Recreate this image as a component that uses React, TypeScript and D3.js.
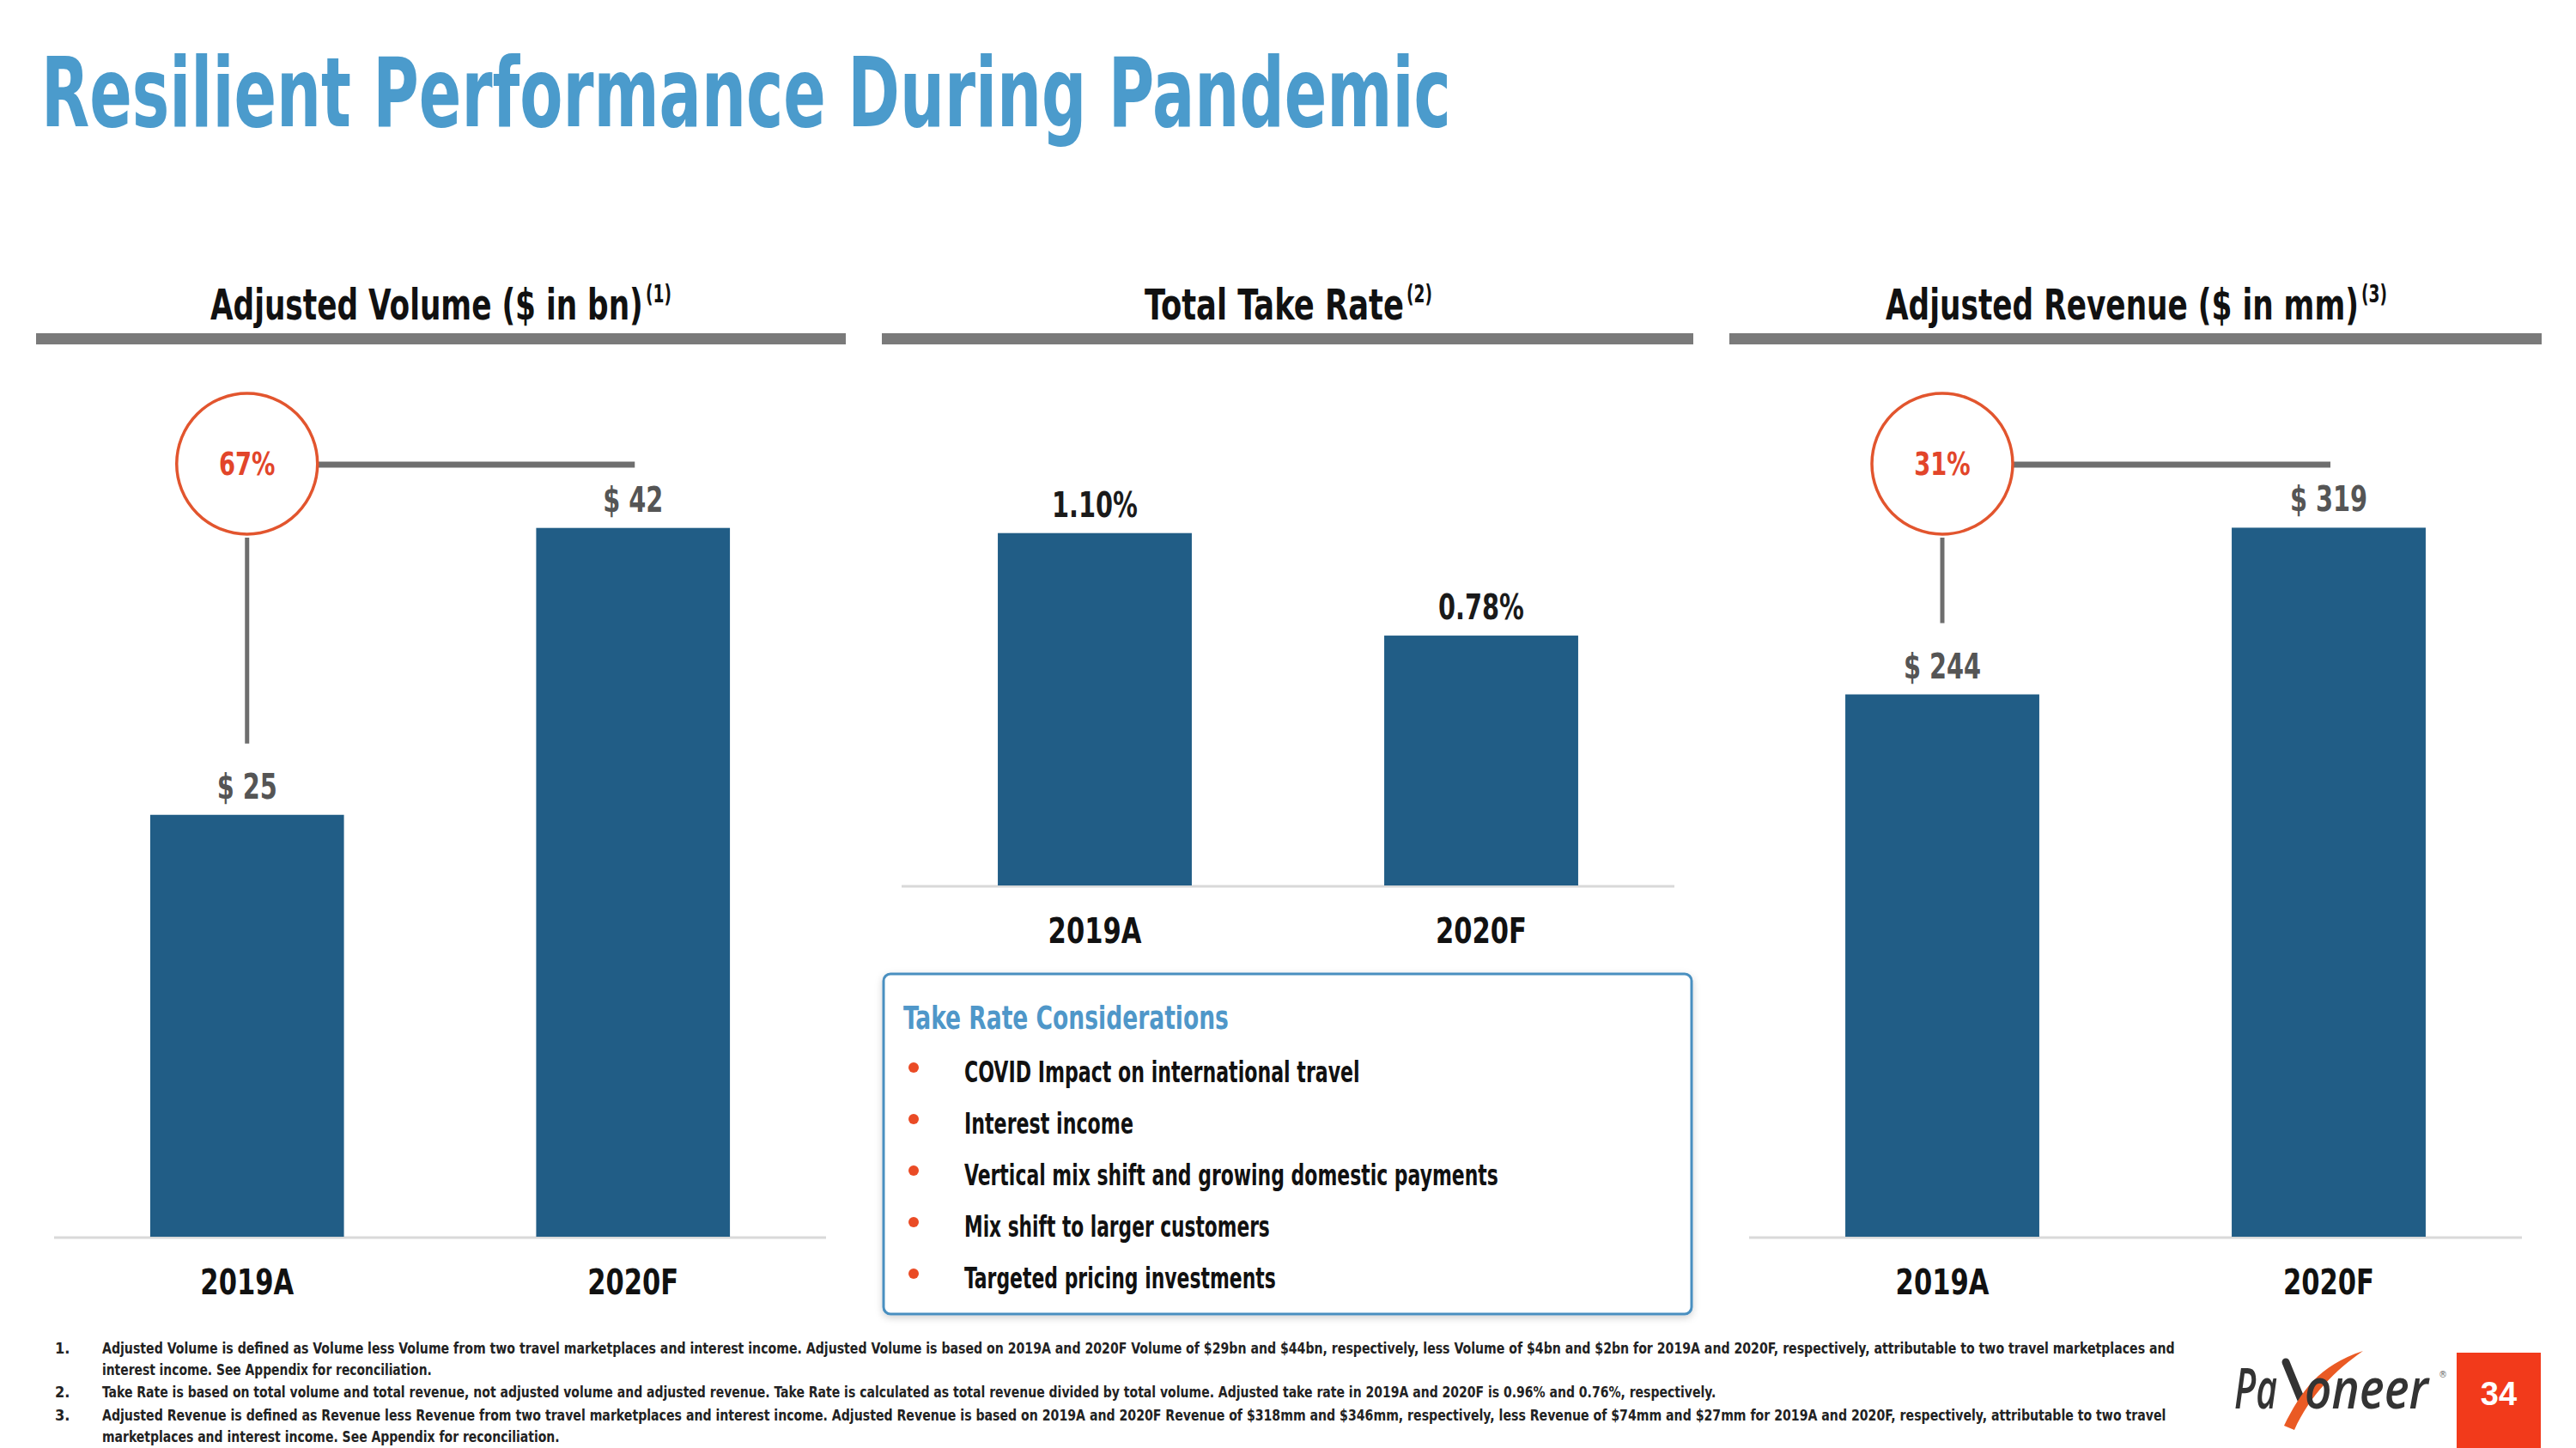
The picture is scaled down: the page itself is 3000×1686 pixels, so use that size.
import React, { useLayoutEffect, useRef, useState } from "react";
import * as d3 from "d3";

const categories = ["2019A", "2020F"];
const volumeValues = [25, 42];
const takeRateValues = [1.1, 0.78];
const revenueValues = [244, 319];
const volumeGrowth = "67%";
const revenueGrowth = "31%";

const titleText = "Resilient Performance During Pandemic";
const panelTitles = [
  { main: "Adjusted Volume ($ in bn)", sup: "(1)" },
  { main: "Total Take Rate", sup: "(2)" },
  { main: "Adjusted Revenue ($ in mm)", sup: "(3)" },
];
const considerationsTitle = "Take Rate Considerations";
const considerations = [
  "COVID Impact on international travel",
  "Interest income",
  "Vertical mix shift and growing domestic payments",
  "Mix shift to larger customers",
  "Targeted pricing investments",
];
const footnoteNumbers = ["1.", "", "2.", "3.", ""];
const footnoteLines = [
  "Adjusted Volume is defined as Volume less Volume from two travel marketplaces and interest income. Adjusted Volume is based on 2019A and 2020F Volume of $29bn and $44bn, respectively, less Volume of $4bn and $2bn for 2019A and 2020F, respectively, attributable to two travel marketplaces and",
  "interest income. See Appendix for reconciliation.",
  "Take Rate is based on total volume and total revenue, not adjusted volume and adjusted revenue. Take Rate is calculated as total revenue divided by total volume. Adjusted take rate in 2019A and 2020F is 0.96% and 0.76%, respectively.",
  "Adjusted Revenue is defined as Revenue less Revenue from two travel marketplaces and interest income. Adjusted Revenue is based on 2019A and 2020F Revenue of $318mm and $346mm, respectively, less Revenue of $74mm and $27mm for 2019A and 2020F, respectively, attributable to two travel",
  "marketplaces and interest income. See Appendix for reconciliation.",
];
const footnoteWidths = [2416, 384, 1880, 2406, 533];
const pageNumber = "34";

const FONT = "'Liberation Sans Narrow', 'DejaVu Sans Condensed', 'Roboto Condensed', 'Arial Narrow', sans-serif";
const LOGO_FONT = "'Open Sans', 'DejaVu Sans', sans-serif";
const BAR = "#215d86";
const GRAY_BAR = "#7a7a7a";
const BLUE = "#4b9bcc";
const ORANGE = "#e2552e";

function FitText({ x, y, width, children, ...rest }: any) {
  const ref = useRef<SVGTextElement>(null);
  const [s, setS] = useState(1);
  useLayoutEffect(() => {
    const el = ref.current;
    if (!el) return;
    const n = el.getComputedTextLength();
    if (n > 0) setS(width / n);
  }, [width, children]);
  return (
    <text ref={ref} transform={`translate(${x},${y}) scale(${s},1)`} x={0} y={0} {...rest}>
      {children}
    </text>
  );
}

function SqText({ x, y, sx, children, ...rest }: any) {
  return (
    <text transform={`translate(${x},${y}) scale(${sx},1)`} x={0} y={0} {...rest}>
      {children}
    </text>
  );
}

type Panel = {
  x0: number;
  x1: number;
  base: number;
  yMax: number;
  top: number;
  values: number[];
  fmt: (v: number) => string;
  labelColor: string;
  growth?: string;
};

const panels: Panel[] = [
  { x0: 63, x1: 962, base: 1440, yMax: 50, top: 1440 - 50 * 19.65, values: volumeValues, fmt: (v) => `$ ${v}`, labelColor: "#555555", growth: volumeGrowth },
  { x0: 1050, x1: 1950, base: 1031, yMax: 1.2, top: 1031 - 1.2 * 373, values: takeRateValues, fmt: (v) => `${v.toFixed(2)}%`, labelColor: "#1a1a1a" },
  { x0: 2037, x1: 2937, base: 1440, yMax: 350, top: 1440 - 350 * 2.588, values: revenueValues, fmt: (v) => `$ ${v}`, labelColor: "#555555", growth: revenueGrowth },
];

const headerX = [[42, 985], [1027, 1972], [2014, 2960]];
const headerTextSpan = [[245, 782], [1333, 1668], [2196, 2780]];

function PanelChart({ p, idx }: { p: Panel; idx: number }) {
  const x = d3.scaleBand<string>().domain(categories).range([p.x0, p.x1]).paddingInner(0).paddingOuter(0);
  const y = d3.scaleLinear().domain([0, p.yMax]).range([p.base, p.top]);
  const bw = x.bandwidth() * 0.502;
  const cx = (c: string) => (x(c) as number) + x.bandwidth() / 2;
  const [hx0, hx1] = headerX[idx];
  const [tx0, tx1] = headerTextSpan[idx];
  const supW = 30;
  return (
    <g>
      <FitText x={tx0} y={372} width={tx1 - tx0 - supW - 3} fontFamily={FONT} fontWeight="bold" fontSize={50} fill="#111">
        {panelTitles[idx].main}
      </FitText>
      <FitText x={tx1 - supW} y={352} width={supW} fontFamily={FONT} fontWeight="bold" fontSize={28} fill="#111">
        {panelTitles[idx].sup}
      </FitText>
      <rect x={hx0} y={388} width={hx1 - hx0} height={13} fill={GRAY_BAR} />
      <line x1={p.x0} x2={p.x1} y1={p.base + 1} y2={p.base + 1} stroke="#d9d9d9" strokeWidth={3} />
      {categories.map((c, i) => (
        <g key={c}>
          <rect x={cx(c) - bw / 2} y={y(p.values[i])} width={bw} height={p.base - y(p.values[i])} fill={BAR} />
          <SqText x={cx(c)} y={y(p.values[i]) - 19} sx={0.8} textAnchor="middle" fontFamily={FONT} fontWeight="bold" fontSize={40} fill={p.labelColor}>
            {p.fmt(p.values[i])}
          </SqText>
          <SqText x={cx(c)} y={p.base + 67} sx={0.85} textAnchor="middle" fontFamily={FONT} fontWeight="bold" fontSize={40} fill="#111">
            {c}
          </SqText>
        </g>
      ))}
      {p.growth && (
        <g>
          <line x1={cx(categories[0]) + 82} x2={cx(categories[1]) + 2} y1={541} y2={541} stroke="#6e6e6e" strokeWidth={7} />
          <line x1={cx(categories[0])} x2={cx(categories[0])} y1={626} y2={y(p.values[0]) - 83} stroke="#6e6e6e" strokeWidth={5} />
          <circle cx={cx(categories[0])} cy={540} r={82} fill="#ffffff" stroke={ORANGE} strokeWidth={3.5} />
          <SqText x={cx(categories[0])} y={553} sx={0.8} textAnchor="middle" fontFamily={FONT} fontWeight="bold" fontSize={38} fill="#e2452a">
            {p.growth}
          </SqText>
        </g>
      )}
    </g>
  );
}

export default function App() {
  const bulletYs = considerations.map((_, i) => 1260 + i * 60);
  const bulletWidths = [461, 197, 622, 356, 363];
  const footYs = [1576, 1601, 1627, 1654, 1679];
  return (
    <svg width={3000} height={1686} style={{ position: "absolute", left: 0, top: 0, background: "#fff" }}>
      <defs>
        <filter id="shadow" x="-5%" y="-5%" width="110%" height="115%">
          <feDropShadow dx="0" dy="3" stdDeviation="4" floodColor="#000" floodOpacity="0.18" />
        </filter>
      </defs>
      <rect width={3000} height={1686} fill="#fff" />
      <FitText x={48} y={147} width={1642} fontFamily={FONT} fontWeight="bold" fontSize={112} fill={BLUE}>
        {titleText}
      </FitText>

      {panels.map((p, i) => (
        <PanelChart key={i} p={p} idx={i} />
      ))}

      <rect x={1029} y={1134} width={941} height={396} rx={8} fill="#fff" stroke="#4a8fc0" strokeWidth={3} filter="url(#shadow)" />
      <FitText x={1052} y={1198} width={379} fontFamily={FONT} fontWeight="bold" fontSize={38} fill="#4f97c9">
        {considerationsTitle}
      </FitText>
      {considerations.map((t, i) => (
        <g key={t}>
          <circle cx={1064} cy={bulletYs[i] - 17} r={6} fill="#ea4b25" />
          <FitText x={1123} y={bulletYs[i]} width={bulletWidths[i]} fontFamily={FONT} fontWeight="bold" fontSize={33} fill="#111">
            {t}
          </FitText>
        </g>
      ))}

      {footnoteLines.map((t, i) => (
        <g key={i}>
          {footnoteNumbers[i] && (
            <text x={64} y={footYs[i]} fontFamily={FONT} fontWeight="bold" fontSize={18} fill="#222">
              {footnoteNumbers[i]}
            </text>
          )}
          <FitText x={119} y={footYs[i]} width={footnoteWidths[i]} fontFamily={FONT} fontWeight="bold" fontSize={18} fill="#222">
            {t}
          </FitText>
        </g>
      ))}

      <g>
        <FitText x={2602} y={1640} width={50} fontFamily={LOGO_FONT} fontStyle="italic" fontWeight="600" fontSize={66} fill="#333">
          Pa
        </FitText>
        <path d="M2662,1586 L2680,1630" stroke="#333" strokeWidth={9} strokeLinecap="round" fill="none" />
        <path d="M2660,1660 C2680,1620 2700,1590 2752,1573 C2720,1595 2690,1625 2672,1665 Z" fill="#ea5a24" />
        <FitText x={2684} y={1640} width={144} fontFamily={LOGO_FONT} fontStyle="italic" fontWeight="600" fontSize={66} fill="#333">
          oneer
        </FitText>
        <text x={2840} y={1604} fontFamily="'DejaVu Sans', sans-serif" fontSize={10} fill="#666">®</text>
      </g>
      <rect x={2861} y={1575} width={98} height={111} fill="#f23a1b" />
      <text x={2910} y={1636} textAnchor="middle" fontFamily="'Liberation Sans', Arial, sans-serif" fontWeight="bold" fontSize={38} fill="#fff">
        {pageNumber}
      </text>
    </svg>
  );
}
